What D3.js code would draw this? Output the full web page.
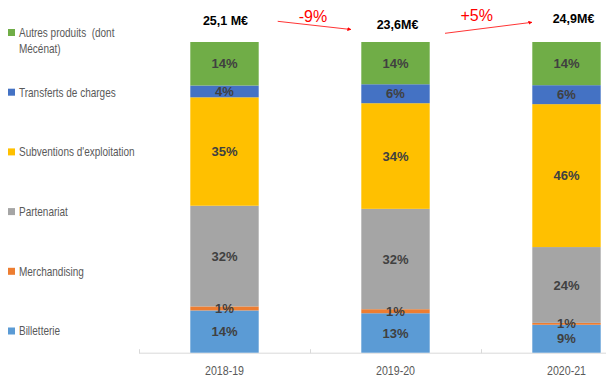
<!DOCTYPE html>
<html><head><meta charset="utf-8">
<script src="https://cdn.jsdelivr.net/npm/d3@7"></script>
<style>
html,body{margin:0;padding:0;background:#fff;}
svg{display:block;}
text{white-space:pre;}
</style></head>
<body>
<svg id="chart" width="606" height="381"></svg>
<script>
const categories = ["2018-19", "2019-20", "2020-21"];
const seriesNames = ["Billetterie", "Merchandising", "Partenariat", "Subventions d'exploitation", "Transferts de charges", "Autres produits  (dont Mécénat)"];
const billetterie   = [13.6, 12.7, 9.0];
const merchandising = [1.3, 1.3, 0.6];
const partenariat   = [32.4, 32.3, 24.4];
const subventions   = [34.9, 34.0, 46.0];
const transferts    = [3.8, 6.1, 6.1];
const autres        = [14.0, 13.6, 13.9];
const totals = ["25,1 M€", "23,6M€", "24,9M€"];
const changes = ["-9%", "+5%"];
const colors = ["#5B9BD5", "#ED7D31", "#A5A5A5", "#FFC000", "#4472C4", "#70AD47"];

const seriesValues = [billetterie, merchandising, partenariat, subventions, transferts, autres];
const table = categories.map((c, i) => {
  const row = {cat: c};
  seriesNames.forEach((s, j) => row[s] = seriesValues[j][i]);
  return row;
});

const svg = d3.select("#chart");
const x = d3.scaleBand().domain(categories).range([139, 652]).paddingInner(0.6).paddingOuter(0.3);
const y = d3.scaleLinear().domain([0, 100]).range([352.7, 42]);
const stack = d3.stack().keys(seriesNames)(table);
const narrowFont = "'Liberation Sans', Arial, sans-serif";

// axis
const axisY = y(0) + 0.5;
svg.append("line").attr("x1", 139).attr("x2", 606).attr("y1", axisY).attr("y2", axisY)
  .attr("stroke", "#d9d9d9").attr("stroke-width", 1);
const step = x.step();
const bounds = [0,1,2,3].map(i => x.range()[0] + i * step);
svg.selectAll(".tk").data(bounds).join("line")
  .attr("x1", d => Math.round(d) + 0.5).attr("x2", d => Math.round(d) + 0.5)
  .attr("y1", axisY - 4).attr("y2", axisY)
  .attr("stroke", "#d9d9d9");
svg.selectAll(".cat").data(categories).join("text")
  .attr("transform", d => `translate(${x(d) + x.bandwidth() / 2},375) scale(0.82,1)`)
  .attr("text-anchor", "middle")
  .attr("font-family", narrowFont)
  .attr("font-size", 13).attr("fill", "#595959")
  .text(d => d);

// bars
const fmt = v => Math.round(v) + "%";
stack.forEach((layer, j) => {
  const g = svg.append("g");
  g.selectAll("rect").data(layer).join("rect")
    .attr("x", d => x(d.data.cat)).attr("width", x.bandwidth())
    .attr("y", d => y(d[1])).attr("height", d => y(d[0]) - y(d[1]))
    .attr("fill", colors[j]);
});
// labels
stack.forEach((layer, j) => {
  svg.append("g").selectAll("text").data(layer).join("text")
    .attr("x", d => x(d.data.cat) + x.bandwidth() / 2)
    .attr("y", d => (y(d[0]) + y(d[1])) / 2 + 4.6)
    .attr("text-anchor", "middle")
    .attr("font-family", "'Liberation Sans', Arial, sans-serif")
    .attr("font-weight", "bold").attr("font-size", 13).attr("fill", "#404040")
    .text(d => fmt(d[1] - d[0]));
});

// totals
const totalDy = [25, 28.5, 23];
svg.selectAll(".tot").data(totals).join("text")
  .attr("x", (d, i) => x(categories[i]) + x.bandwidth() / 2 + [1, 2, 7][i])
  .attr("y", (d, i) => totalDy[i])
  .attr("text-anchor", "middle")
  .attr("font-family", "'Liberation Sans', Arial, sans-serif")
  .attr("font-weight", "bold").attr("font-size", 12.5).attr("fill", "#000")
  .text(d => d);

// change arrows
svg.append("defs").append("marker").attr("id", "arr")
  .attr("viewBox", "0 0 10 10").attr("refX", 9).attr("refY", 5)
  .attr("markerWidth", 5).attr("markerHeight", 5).attr("orient", "auto")
  .append("path").attr("d", "M0,0L10,5L0,10z").attr("fill", "#FF0000");
const arrows = [
  {x1: 277.7, y1: 21.3, x2: 351, y2: 29.5, tx: 313, ty: 21.5},
  {x1: 445, y1: 33.3, x2: 532, y2: 22.3, tx: 476.7, ty: 20.5}
];
svg.selectAll(".arrow").data(arrows).join("line")
  .attr("x1", d => d.x1).attr("y1", d => d.y1).attr("x2", d => d.x2).attr("y2", d => d.y2)
  .attr("stroke", "#FF0000").attr("stroke-width", 0.8).attr("marker-end", "url(#arr)");
svg.selectAll(".chg").data(changes).join("text")
  .attr("x", (d, i) => arrows[i].tx).attr("y", (d, i) => arrows[i].ty)
  .attr("text-anchor", "middle")
  .attr("font-family", "'Liberation Sans', Arial, sans-serif")
  .attr("font-size", 16).attr("fill", "#FF0000")
  .text(d => d);

// legend
const legendOrder = seriesNames.map((s, j) => j).reverse();
const lg = svg.append("g");
legendOrder.forEach((j, k) => {
  const cy = 32.5 + k * 59.7;
  lg.append("rect").attr("x", 8).attr("y", cy - 3.5).attr("width", 7).attr("height", 7).attr("fill", colors[j]);
  const t = lg.append("text").attr("transform", `translate(19,${cy + 4.3}) scale(0.8,1)`)
    .attr("font-family", narrowFont)
    .attr("font-size", 12.5).attr("fill", "#595959");
  const name = seriesNames[j];
  if (name.startsWith("Autres")) {
    t.append("tspan").attr("x", 0).text("Autres produits  (dont");
    t.append("tspan").attr("x", 0).attr("dy", 16).text("Mécénat)");
  } else {
    t.text(name);
  }
});
</script>
</body></html>
